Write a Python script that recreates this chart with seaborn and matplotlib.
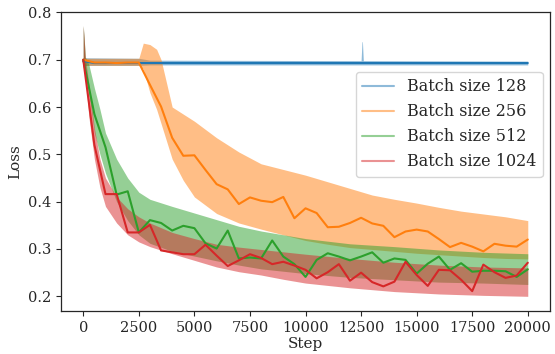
import numpy as np
import pandas as pd
import matplotlib
matplotlib.use("Agg")
import matplotlib.pyplot as plt
import seaborn as sns

# ---------------- data ----------------
labels = ["Batch size 128", "Batch size 256", "Batch size 512", "Batch size 1024"]
colors = ["#1f77b4", "#ff7f0e", "#2ca02c", "#d62728"]

eval_steps = list(range(0, 20001, 500))

loss_128 = [0.697] + [0.693] * 40
loss_256 = [0.700, 0.694, 0.694, 0.693, 0.694, 0.694, 0.647, 0.601, 0.535, 0.497,
            0.498, 0.467, 0.437, 0.426, 0.395, 0.409, 0.402, 0.399, 0.410, 0.365,
            0.386, 0.376, 0.346, 0.347, 0.355, 0.366, 0.354, 0.349, 0.325, 0.337,
            0.341, 0.337, 0.321, 0.304, 0.313, 0.305, 0.295, 0.311, 0.307, 0.305,
            0.320]
loss_512 = [0.700, 0.585, 0.515, 0.415, 0.422, 0.335, 0.361, 0.355, 0.339, 0.349,
            0.344, 0.312, 0.301, 0.339, 0.280, 0.282, 0.280, 0.318, 0.284, 0.268,
            0.241, 0.277, 0.291, 0.284, 0.276, 0.284, 0.293, 0.271, 0.280, 0.277,
            0.248, 0.269, 0.284, 0.256, 0.270, 0.252, 0.254, 0.254, 0.253, 0.241,
            0.257]
loss_1024 = [0.700, 0.520, 0.416, 0.416, 0.335, 0.335, 0.351, 0.297, 0.293, 0.289,
             0.289, 0.309, 0.286, 0.264, 0.276, 0.289, 0.281, 0.268, 0.273, 0.265,
             0.256, 0.238, 0.251, 0.268, 0.233, 0.250, 0.230, 0.221, 0.231, 0.273,
             0.245, 0.222, 0.256, 0.255, 0.235, 0.211, 0.267, 0.251, 0.239, 0.244,
             0.271]

# raw-loss envelopes (per-step noise band)
band_128_steps = [0, 60, 2500, 3000, 12500, 12540, 12560, 12600, 20000]
band_128_low = [0.690, 0.688, 0.688, 0.689, 0.689, 0.689, 0.689, 0.689, 0.689]
band_128_high = [0.772, 0.704, 0.703, 0.699, 0.698, 0.738, 0.738, 0.698, 0.697]

band_256_steps = [0, 60, 2500, 2700, 3000, 3300, 3500, 4000, 4500, 5000, 6000, 7000,
                  8000, 9000, 10000, 11000, 12000, 13000, 14000, 15000, 16000,
                  17000, 18000, 19000, 20000]
band_256_low = [0.690, 0.688, 0.688, 0.680, 0.630, 0.595, 0.565, 0.490, 0.445, 0.410,
                0.375, 0.355, 0.342, 0.330, 0.318, 0.310, 0.303, 0.299, 0.295,
                0.291, 0.288, 0.285, 0.282, 0.280, 0.279]
band_256_high = [0.772, 0.703, 0.703, 0.735, 0.732, 0.722, 0.700, 0.600, 0.585, 0.570,
                 0.535, 0.505, 0.480, 0.468, 0.456, 0.442, 0.428, 0.414, 0.405,
                 0.397, 0.388, 0.380, 0.374, 0.368, 0.360]

band_512_steps = [0, 100, 250, 500, 750, 1000, 1500, 2000, 2500, 3000, 4000, 5000,
                  6000, 7000, 8000, 10000, 12000, 14000, 16000, 18000, 20000]
band_512_low = [0.690, 0.670, 0.630, 0.545, 0.500, 0.460, 0.400, 0.360, 0.330, 0.312,
                0.295, 0.285, 0.275, 0.266, 0.258, 0.248, 0.240, 0.235, 0.230,
                0.228, 0.225]
band_512_high = [0.772, 0.705, 0.690, 0.640, 0.595, 0.545, 0.490, 0.450, 0.420, 0.405,
                 0.390, 0.376, 0.362, 0.348, 0.338, 0.322, 0.311, 0.305, 0.298,
                 0.293, 0.290]

band_1024_steps = [0, 100, 250, 500, 750, 1000, 1500, 2000, 2500, 3000, 4000, 5000,
                   6000, 7000, 8000, 9000, 10000, 12000, 14000, 16000, 18000, 20000]
band_1024_low = [0.690, 0.660, 0.580, 0.490, 0.430, 0.390, 0.355, 0.330, 0.315, 0.305,
                 0.290, 0.276, 0.262, 0.252, 0.245, 0.236, 0.228, 0.218, 0.210,
                 0.205, 0.202, 0.200]
band_1024_high = [0.772, 0.700, 0.650, 0.555, 0.490, 0.450, 0.410, 0.385, 0.368, 0.355,
                  0.335, 0.322, 0.310, 0.304, 0.299, 0.294, 0.289, 0.280, 0.272,
                  0.266, 0.262, 0.260]

smooth = [loss_128, loss_256, loss_512, loss_1024]
bands = [(band_128_steps, band_128_low, band_128_high),
         (band_256_steps, band_256_low, band_256_high),
         (band_512_steps, band_512_low, band_512_high),
         (band_1024_steps, band_1024_low, band_1024_high)]

# ---------------- style ----------------
sns.set_theme(style="ticks", rc={
    "axes.edgecolor": "0.15", "axes.linewidth": 0.9,
    "xtick.major.size": 3.5, "ytick.major.size": 3.5,
    "xtick.major.width": 0.8, "ytick.major.width": 0.8,
})
plt.rcParams["font.family"] = ["DejaVu Serif"]

fig = plt.figure(figsize=(5.55, 3.54), dpi=100)
ax = fig.add_axes([0.110, 0.1215, 0.881, 0.8435])

for lab, col, vals, (bs, lo, hi) in zip(labels, colors, smooth, bands):
    ax.fill_between(bs, lo, hi, color=col, alpha=0.5, linewidth=0)
    df = pd.DataFrame({"Step": eval_steps, "Loss": vals})
    sns.lineplot(data=df, x="Step", y="Loss", color=col, linewidth=1.5, ax=ax)
    ax.plot([], [], color=col, alpha=0.5, linewidth=1.5, label=lab)

ax.set_xlim(-1000, 21000)
ax.set_ylim(0.169, 0.8)
ax.set_xticks([0, 2500, 5000, 7500, 10000, 12500, 15000, 17500, 20000])
ax.set_yticks([0.2, 0.3, 0.4, 0.5, 0.6, 0.7, 0.8])
ax.tick_params(labelsize=10.5, colors="0.15")
ax.set_xlabel("Step", fontsize=11, labelpad=2)
ax.set_ylabel("Loss", fontsize=11, labelpad=4)

ax.legend(loc="upper right", bbox_to_anchor=(0.985, 0.80), borderaxespad=0,
          fontsize=11.5, frameon=True, handlelength=2.0)

fig.savefig("out.png", dpi=100)
